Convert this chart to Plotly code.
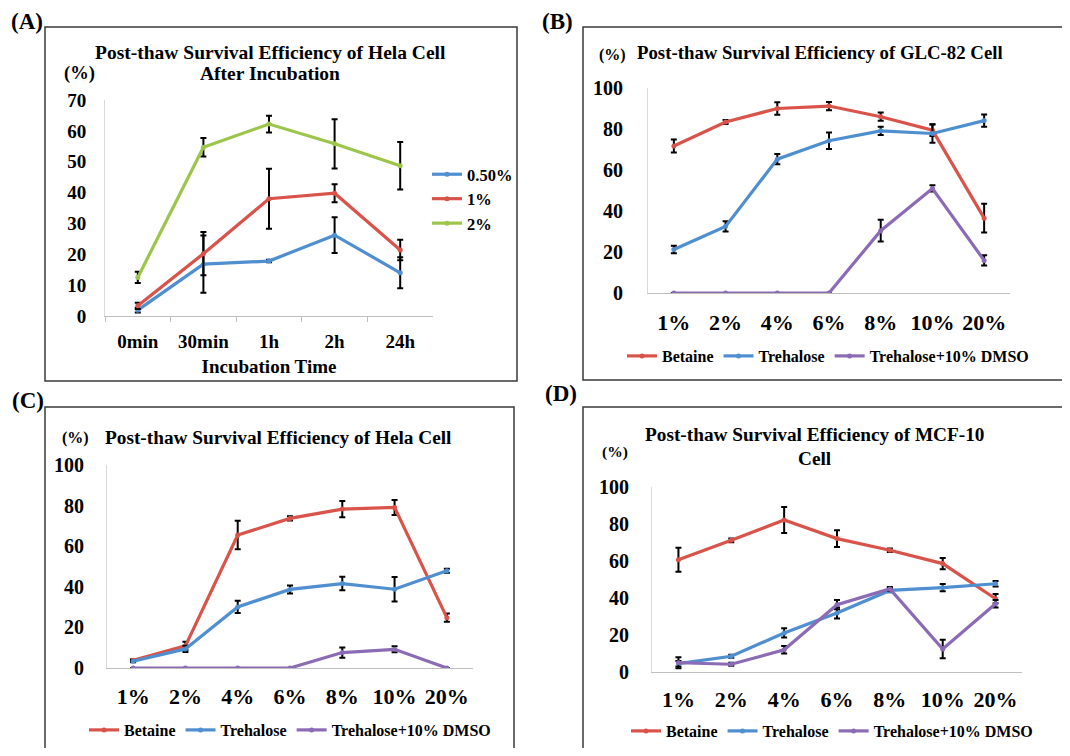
import plotly.graph_objects as go

# ---------------- data ----------------
time_labels = ["0min", "30min", "1h", "2h", "24h"]
a_p05 = [1.9, 16.8, 17.8, 26.2, 14.0]
a_p05_err = [0.8, 9.3, 0.4, 5.8, 5.0]
a_p1 = [3.3, 20.2, 38.0, 39.8, 21.4]
a_p1_err = [1.0, 7.0, 9.7, 2.9, 3.3]
a_p2 = [12.5, 54.7, 62.2, 55.8, 48.7]
a_p2_err = [1.8, 3.0, 2.7, 8.0, 7.7]

conc_labels = ["1%", "2%", "4%", "6%", "8%", "10%", "20%"]
b_betaine = [71.7, 83.4, 90.0, 91.2, 86.0, 79.4, 36.5]
b_betaine_err = [3.2, 1.0, 3.0, 2.0, 2.0, 2.8, 7.0]
b_trehalose = [21.2, 32.5, 65.3, 74.3, 79.1, 77.8, 84.1]
b_trehalose_err = [1.8, 2.5, 2.5, 4.0, 2.0, 4.5, 3.0]
b_dmso = [0, 0, 0, 0, 30.4, 51.0, 15.9]
b_dmso_err = [0, 0, 0, 0, 5.3, 1.5, 2.5]

c_betaine = [3.8, 10.9, 65.5, 73.7, 78.3, 79.1, 24.8]
c_betaine_err = [0.5, 2.0, 7.0, 1.0, 4.0, 3.7, 2.0]
c_trehalose = [3.3, 9.4, 30.1, 38.7, 41.6, 38.8, 47.9]
c_trehalose_err = [0.5, 1.5, 3.0, 2.0, 3.3, 6.0, 1.0]
c_dmso = [0, 0, 0, 0, 7.6, 9.2, 0]
c_dmso_err = [0, 0, 0, 0, 2.5, 1.5, 0]

d_betaine = [60.7, 71.2, 82.2, 72.1, 65.8, 58.6, 39.6]
d_betaine_err = [6.5, 1.0, 7.0, 4.5, 1.0, 3.0, 2.5]
d_trehalose = [4.5, 8.5, 21.1, 31.9, 44.1, 45.6, 47.7]
d_trehalose_err = [1.5, 0.8, 2.5, 3.0, 1.0, 2.0, 1.5]
d_dmso = [5.0, 4.2, 12.0, 36.4, 44.9, 12.4, 36.9]
d_dmso_err = [3.0, 0.8, 2.0, 2.5, 1.0, 5.0, 2.0]

# ---------------- style ----------------
OFF = 8                    # page body margin
W, H = 1070 - 2 * OFF, 756 - 2 * OFF
FONT = "Liberation Serif, Times New Roman, serif"
RED = "#D9534A"
BLUE = "#4F8FD0"
GREEN = "#9DC54A"
PURPLE = "#8B6BB5"


def fx(p):
    return (p - OFF) / W


def fy(p):
    return 1 - (p - OFF) / H


fig = go.Figure()


def add(xcats, y, err, name, color, xa, ya, legend):
    fig.add_trace(go.Scatter(
        x=xcats, y=y, name=name, mode="lines+markers",
        line=dict(color=color, width=3.2),
        marker=dict(color=color, size=5, symbol="circle"),
        error_y=dict(type="data", array=err, visible=True,
                     color="black", thickness=2, width=3),
        xaxis=xa, yaxis=ya, legend=legend,
    ))


# Panel A
add(time_labels, a_p05, a_p05_err, "0.50%", BLUE, "x", "y", "legend")
add(time_labels, a_p1, a_p1_err, "1%", RED, "x", "y", "legend")
add(time_labels, a_p2, a_p2_err, "2%", GREEN, "x", "y", "legend")
# Panel B
add(conc_labels, b_betaine, b_betaine_err, "Betaine", RED, "x2", "y2", "legend2")
add(conc_labels, b_trehalose, b_trehalose_err, "Trehalose", BLUE, "x2", "y2", "legend2")
add(conc_labels, b_dmso, b_dmso_err, "Trehalose+10% DMSO", PURPLE, "x2", "y2", "legend2")
# Panel C
add(conc_labels, c_betaine, c_betaine_err, "Betaine", RED, "x3", "y3", "legend3")
add(conc_labels, c_trehalose, c_trehalose_err, "Trehalose", BLUE, "x3", "y3", "legend3")
add(conc_labels, c_dmso, c_dmso_err, "Trehalose+10% DMSO", PURPLE, "x3", "y3", "legend3")
# Panel D
add(conc_labels, d_betaine, d_betaine_err, "Betaine", RED, "x4", "y4", "legend4")
add(conc_labels, d_trehalose, d_trehalose_err, "Trehalose", BLUE, "x4", "y4", "legend4")
add(conc_labels, d_dmso, d_dmso_err, "Trehalose+10% DMSO", PURPLE, "x4", "y4", "legend4")


def xaxis(px0, px1, ncat, size, standoff, ticks=False):
    d = dict(domain=[fx(px0), fx(px1)], type="category", range=[-0.5, ncat - 0.5],
             showline=True, linecolor="#BFBFBF", linewidth=1, showgrid=False,
             zeroline=False, fixedrange=True,
             tickfont=dict(family=FONT, size=size, color="black", weight=700),
             ticklabelstandoff=standoff)
    if ticks:
        d.update(ticks="outside", tickson="boundaries", ticklen=5,
                 tickcolor="#BFBFBF", tickwidth=1)
    else:
        d.update(ticks="")
    return d


def yaxis(py0, py1, rmax, dtick, size, standoff):
    return dict(domain=[fy(py0), fy(py1)], range=[0, rmax], dtick=dtick,
                showline=True, linecolor="#D9D9D9", linewidth=1, showgrid=False,
                zeroline=False, ticks="", fixedrange=True,
                tickfont=dict(family=FONT, size=size, color="black", weight=700),
                ticklabelstandoff=standoff)


xa = xaxis(105, 433, 5, 19, 8, ticks=True)
xa.update(title=dict(text="Incubation Time", standoff=8,
                     font=dict(family=FONT, size=19, color="black", weight=700)))

legfont = dict(family=FONT, size=16, color="black", weight=700)

fig.update_layout(
    width=W, height=H,
    margin=dict(l=0, r=0, t=0, b=0, autoexpand=False),
    paper_bgcolor="white", plot_bgcolor="white",
    font=dict(family=FONT, color="black", weight=700),
    xaxis=xa,
    yaxis=yaxis(316, 100, 70, 10, 19, 14),
    xaxis2=dict(xaxis(648, 1010, 7, 22, 10), anchor="y2"),
    yaxis2=dict(yaxis(293, 88, 100, 20, 20, 20), anchor="x2"),
    xaxis3=dict(xaxis(107, 473, 7, 22, 9), anchor="y3"),
    yaxis3=dict(yaxis(668, 465, 100, 20, 20, 18), anchor="x3"),
    xaxis4=dict(xaxis(652, 1022, 7, 22, 8), anchor="y4"),
    yaxis4=dict(yaxis(672, 487, 100, 20, 20, 18), anchor="x4"),
    legend=dict(x=fx(427), y=fy(157), xanchor="left", yanchor="top",
                orientation="v", itemwidth=30, tracegroupgap=0,
                font=dict(legfont, size=16.5), bgcolor="rgba(0,0,0,0)"),
    legend2=dict(x=fx(828), y=fy(356), xanchor="center", yanchor="middle",
                 orientation="h", itemwidth=30, font=legfont,
                 bgcolor="rgba(0,0,0,0)"),
    legend3=dict(x=fx(290), y=fy(730), xanchor="center", yanchor="middle",
                 orientation="h", itemwidth=30, font=legfont,
                 bgcolor="rgba(0,0,0,0)"),
    legend4=dict(x=fx(832), y=fy(731), xanchor="center", yanchor="middle",
                 orientation="h", itemwidth=30, font=legfont,
                 bgcolor="rgba(0,0,0,0)"),
)

# panel frames
frames = [(45, 27, 517, 381), (583, 27, 1066, 380),
          (45, 407, 514, 780), (583, 407, 1066, 780)]
for x0, y0, x1, y1 in frames:
    fig.add_shape(type="rect", xref="paper", yref="paper",
                  x0=fx(x0), x1=fx(x1), y0=fy(y0), y1=fy(y1),
                  line=dict(color="#3A3A3A", width=1.5))


def note(text, x, y, size):
    fig.add_annotation(text=text, x=fx(x), y=fy(y), xref="paper", yref="paper",
                       xanchor="center", yanchor="middle", showarrow=False,
                       font=dict(family=FONT, size=size, color="black", weight=700))


note("(A)", 27, 21, 23)
note("(B)", 557, 21, 23)
note("(C)", 28, 400, 23)
note("(D)", 561, 393, 23)

note("Post-thaw Survival Efficiency of Hela Cell", 270, 52, 19.5)
note("After Incubation", 270, 73, 19.5)
note("(%)", 79, 73, 18.5)

note("(%)", 612, 55, 16)
note("Post-thaw Survival Efficiency of GLC-82 Cell", 820, 52, 18.8)

note("(%)", 75, 438, 16)
note("Post-thaw Survival Efficiency of Hela Cell", 278, 438, 19.3)

note("Post-thaw Survival Efficiency of MCF-10", 815, 434, 19.3)
note("Cell", 815, 458, 19.3)
note("(%)", 615, 452, 15.5)

fig.write_html("out.html")
